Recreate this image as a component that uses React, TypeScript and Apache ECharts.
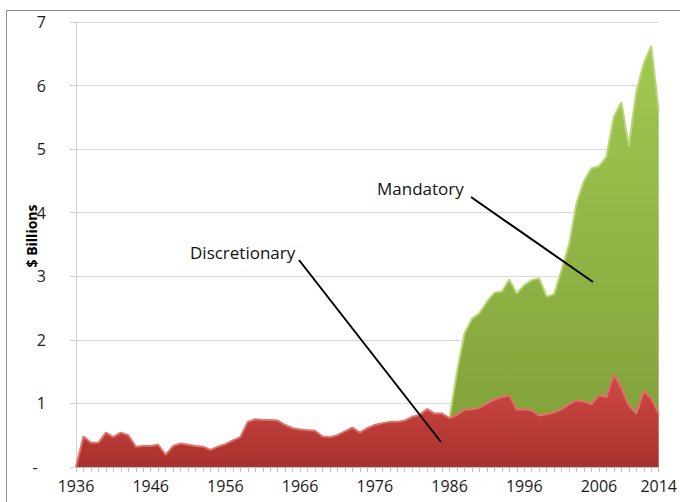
import React, { useEffect, useRef } from 'react';
import * as echarts from 'echarts';

const years: string[] = [];
for (let y = 1936; y <= 2014; y++) years.push(String(y));

// Discretionary, $ billions, 1936..2014
const discretionary = [
  0, 0.48, 0.38, 0.38, 0.54, 0.47, 0.54, 0.5, 0.32, 0.33,
  0.33, 0.35, 0.19, 0.33, 0.37, 0.35, 0.33, 0.32, 0.27, 0.32,
  0.36, 0.42, 0.47, 0.71, 0.75, 0.74, 0.74, 0.73, 0.66, 0.61,
  0.59, 0.58, 0.57, 0.48, 0.47, 0.5, 0.56, 0.62, 0.54, 0.61,
  0.66, 0.69, 0.71, 0.71, 0.73, 0.79, 0.82, 0.91, 0.84, 0.84,
  0.77, 0.82, 0.9, 0.91, 0.93, 1.0, 1.06, 1.1, 1.13, 0.9,
  0.91, 0.89, 0.81, 0.83, 0.86, 0.91, 0.99, 1.05, 1.03, 0.99,
  1.13, 1.1, 1.46, 1.25, 0.97, 0.84, 1.2, 1.08, 0.84,
];

// Mandatory, $ billions, 1986..2014 (none before 1986)
const mandatoryStartYear = 1986;
const mandatoryFrom1986 = [
  0, 0.68, 1.2, 1.42, 1.49, 1.6, 1.68, 1.66, 1.82, 1.83,
  1.95, 2.05, 2.16, 1.85, 1.86, 2.19, 2.51, 3.1, 3.47, 3.71,
  3.6, 3.78, 4.05, 4.49, 4.07, 5.06, 5.15, 5.54, 4.76,
];

const xLabelYears = ['1936', '1946', '1956', '1966', '1976', '1986', '1996', '2006', '2014'];
const FONT = 'Open Sans';

export default function App() {
  const ref = useRef<HTMLDivElement>(null);
  useEffect(() => {
    const chart = echarts.init(ref.current!, null, { renderer: 'svg' });
    const mandatory = years.map((y) => {
      const k = Number(y) - mandatoryStartYear;
      return k >= 0 ? mandatoryFrom1986[k] : null;
    });
    chart.setOption({
      animation: false,
      backgroundColor: '#ffffff',
      grid: { left: 76, right: 14, top: 22, bottom: 35, containLabel: false },
      xAxis: {
        type: 'category',
        data: years,
        boundaryGap: false,
        axisLine: { show: true, lineStyle: { color: '#bfbfbf', width: 1 } },
        axisTick: { show: true, interval: 0, length: 5, lineStyle: { color: '#bfbfbf' } },
        axisLabel: {
          interval: (_i: number, v: string) => xLabelYears.indexOf(v) >= 0,
          color: '#1a1a1a',
          fontFamily: FONT,
          fontSize: 16,
          margin: 11,
        },
        splitLine: { show: false },
      },
      yAxis: {
        type: 'value',
        min: 0,
        max: 7,
        interval: 1,
        axisLine: { show: true, lineStyle: { color: '#cfcfcf' } },
        axisTick: { show: true, length: 6, lineStyle: { color: '#cfcfcf' } },
        axisLabel: {
          formatter: (v: number) => (v === 0 ? '-  ' : String(v)),
          color: '#1a1a1a',
          fontFamily: FONT,
          fontSize: 16,
          margin: 30,
        },
        splitLine: { show: true, lineStyle: { color: '#d9d9d9', width: 1 } },
      },
      series: [
        {
          name: 'Discretionary',
          type: 'line',
          stack: 'total',
          data: discretionary,
          symbol: 'none',
          lineStyle: { color: '#e36f69', width: 2 },
          areaStyle: {
            opacity: 1,
            color: new echarts.graphic.LinearGradient(0, 0, 0, 1, [
              { offset: 0, color: '#d04a45' },
              { offset: 1, color: '#a8312d' },
            ]),
          },
          z: 3,
        },
        {
          name: 'Mandatory',
          type: 'line',
          stack: 'total',
          data: mandatory,
          symbol: 'none',
          lineStyle: { color: '#b7d774', width: 2 },
          areaStyle: {
            opacity: 1,
            color: new echarts.graphic.LinearGradient(0, 0, 0, 1, [
              { offset: 0, color: '#a0c951' },
              { offset: 1, color: '#83a33b' },
            ]),
          },
          z: 2,
        },
      ],
      graphic: [
        {
          type: 'rect',
          shape: { x: 6.5, y: 10.5, width: 700, height: 600 },
          style: { fill: 'none', stroke: '#8c8c8c', lineWidth: 1 },
          silent: true,
          z: 0,
        },
        {
          type: 'text',
          x: 31,
          y: 236,
          rotation: Math.PI / 2,
          style: {
            text: '$ Billions',
            font: `bold 14px "${FONT}"`,
            fill: '#000000',
            align: 'center',
            verticalAlign: 'middle',
          },
          z: 10,
        },
        {
          type: 'text',
          x: 377,
          y: 188,
          style: {
            text: 'Mandatory',
            font: `17px "${FONT}"`,
            fill: '#111111',
            align: 'left',
            verticalAlign: 'middle',
          },
          z: 10,
        },
        {
          type: 'text',
          x: 190,
          y: 252,
          style: {
            text: 'Discretionary',
            font: `17px "${FONT}"`,
            fill: '#111111',
            align: 'left',
            verticalAlign: 'middle',
          },
          z: 10,
        },
        {
          type: 'line',
          shape: { x1: 471, y1: 197, x2: 593, y2: 282 },
          style: { stroke: '#000000', lineWidth: 2 },
          z: 10,
        },
        {
          type: 'line',
          shape: { x1: 299, y1: 260, x2: 441, y2: 442 },
          style: { stroke: '#000000', lineWidth: 2 },
          z: 10,
        },
      ],
    });
    return () => chart.dispose();
  }, []);
  return (
    <div
      ref={ref}
      style={{ position: 'fixed', left: 0, top: 0, width: 680, height: 502, background: '#fff' }}
    />
  );
}
